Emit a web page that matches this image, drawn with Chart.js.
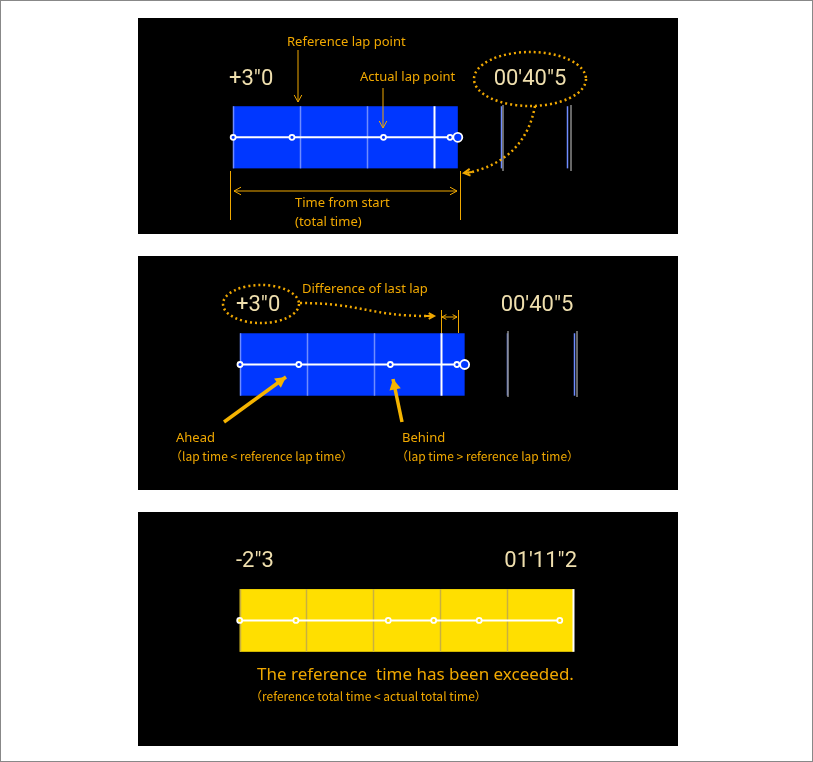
<!DOCTYPE html>
<html>
<head>
<meta charset="utf-8">
<script src="https://cdn.jsdelivr.net/npm/chart.js@4.4.0/dist/chart.umd.min.js"></script>
<style>
  body { margin: 0; background: #fff; }
  #frame { position: absolute; left: 0; top: 0; width: 811px; height: 760px; border: 1px solid #888; }
  .panel { position: absolute; left: 138px; width: 540px; background: #000; }
  .panel canvas { display: block; }
</style>
</head>
<body>
<div id="frame"></div>
<div class="panel" id="p1" style="top:18px;height:216px"><canvas id="c1"></canvas></div>
<div class="panel" id="p2" style="top:256px;height:234px"><canvas id="c2"></canvas></div>
<div class="panel" id="p3" style="top:512px;height:234px"><canvas id="c3"></canvas></div>
<script>
// seconds from start at each actual lap point
const lapsAhead = [0, 10.6, 27.1, 39.1, 40.5];
const lapsOver = [0, 12.0, 31.7, 41.4, 51.1, 68.3];
// reference lap time and number of reference laps
const refLapAhead = 12.05;
const refLapOver = 14.24;
const refLapCount = 5;
const totalAhead = 40.5;
const totalOver = 71.2;
const diffLabels = ['+3"0', '+3"0', '-2"3'];
const totalLabels = ["00'40\"5", "00'40\"5", "01'11\"2"];

const ORANGE = '#f0a800';
const CREAM = '#efdfae';
const PANEL_L = 138;

function arrowHead(ctx, x1, y1, x2, y2, size, filled) {
    const a = Math.atan2(y2 - y1, x2 - x1);
    ctx.beginPath();
    ctx.moveTo(x2 - size * Math.cos(a - 0.5), y2 - size * Math.sin(a - 0.5));
    ctx.lineTo(x2, y2);
    ctx.lineTo(x2 - size * Math.cos(a + 0.5), y2 - size * Math.sin(a + 0.5));
    if (filled) { ctx.closePath(); ctx.fill(); } else ctx.stroke();
}

function arrow(ctx, x1, y1, x2, y2, opts = {}) {
    ctx.save();
    ctx.strokeStyle = opts.color || ORANGE;
    ctx.fillStyle = opts.color || ORANGE;
    ctx.lineWidth = opts.width || 1;
    ctx.beginPath(); ctx.moveTo(x1, y1); ctx.lineTo(x2, y2); ctx.stroke();
    arrowHead(ctx, x1, y1, x2, y2, opts.head || 8, opts.filled);
    if (opts.both) arrowHead(ctx, x2, y2, x1, y1, opts.head || 8, opts.filled);
    ctx.restore();
}

function text(ctx, s, x, y, font, color, align) {
    ctx.save();
    ctx.font = font; ctx.fillStyle = color;
    ctx.textAlign = align || 'left'; ctx.textBaseline = 'middle';
    ctx.fillText(s, x, y);
    ctx.restore();
}

function dottedEllipse(ctx, cx, cy, rx, ry) {
    ctx.save();
    ctx.strokeStyle = ORANGE; ctx.lineWidth = 2.5; ctx.setLineDash([2, 3]);
    ctx.beginPath(); ctx.ellipse(cx, cy, rx, ry, 0, 0, Math.PI * 2); ctx.stroke();
    ctx.restore();
}

function makeChart(id, top, height, laps, refLap, total, barLeft, barTop, barBottom, pxPerSec, barColor, gridColor, bigEnd, note) {
    const canvas = document.getElementById(id);
    const lineY = (barTop + barBottom) / 2;
    const barPlugin = {
        id: 'bar' + id,
        beforeDatasetsDraw(chart) {
            const ctx = chart.ctx, x = chart.scales.x, y = chart.scales.y;
            const x0 = x.getPixelForValue(0), x1 = x.getPixelForValue(total);
            const y0 = y.getPixelForValue(1), y1 = y.getPixelForValue(-1);
            ctx.save();
            ctx.fillStyle = barColor;
            ctx.fillRect(x0, y0, x1 - x0, y1 - y0);
            for (let i = 0; i <= refLapCount; i++) {
                const px = Math.round(x.getPixelForValue(i * refLap)) + 0.5;
                const current = i * refLap <= total && (i + 1) * refLap > total;
                ctx.strokeStyle = current ? '#ffffff' : gridColor;
                ctx.lineWidth = current ? 2 : 1.5;
                ctx.beginPath(); ctx.moveTo(px, y0); ctx.lineTo(px, y1); ctx.stroke();
            }
            ctx.restore();
        },
        afterDraw(chart) { note(chart.ctx, (X) => X - PANEL_L, (Y) => Y - top); }
    };
    const radii = laps.map(() => 2.5);
    if (bigEnd) radii[radii.length - 1] = 4.5;
    return new Chart(canvas, {
        type: 'scatter',
        data: { datasets: [{
            data: laps.map(t => ({ x: t, y: 0 })),
            showLine: true,
            borderColor: '#ffffff', borderWidth: 2,
            pointRadius: radii, pointBorderWidth: 1.8,
            pointBorderColor: '#ffffff', pointBackgroundColor: barColor
        }] },
        options: {
            responsive: false, animation: false,
            layout: { padding: 0 },
            plugins: { legend: { display: false }, tooltip: { enabled: false } },
            scales: {
                x: { type: 'linear', display: false,
                     min: -(barLeft - PANEL_L) / pxPerSec, max: (PANEL_L + 540 - barLeft) / pxPerSec },
                y: { type: 'linear', display: false,
                     min: -1 - 2 * (top + height - barBottom) / (barBottom - barTop),
                     max: 1 + 2 * (barTop - top) / (barBottom - barTop) }
            }
        },
        plugins: [barPlugin]
    });
}

function sizeCanvas(id, h) {
    const c = document.getElementById(id);
    c.width = 540; c.height = h; c.style.width = '540px'; c.style.height = h + 'px';
}
sizeCanvas('c1', 216); sizeCanvas('c2', 234); sizeCanvas('c3', 234);

const BIG = '22px Roboto';
const SMALL = '13px "Noto Sans", sans-serif';

function outsideLines(ctx, fx, fy, xs, y0, y1) {
    ctx.save(); ctx.strokeStyle = '#8a8a8a'; ctx.lineWidth = 1.5;
    xs.forEach(x => { ctx.beginPath(); ctx.moveTo(fx(x), fy(y0)); ctx.lineTo(fx(x), fy(y1)); ctx.stroke(); });
    ctx.restore();
}

makeChart('c1', 18, 216, lapsAhead, refLapAhead, totalAhead, 229, 105, 171, 230 / totalAhead,
    '#0037ff', '#6f8cff', true, (ctx, fx, fy) => {
    outsideLines(ctx, fx, fy, [503, 571], 105, 171);
    text(ctx, diffLabels[0], fx(229), fy(79), BIG, CREAM);
    text(ctx, totalLabels[0], fx(530), fy(79), BIG, CREAM, 'center');
    dottedEllipse(ctx, fx(530), fy(79), 56, 27);
    text(ctx, 'Reference lap point', fx(287), fy(42), SMALL, ORANGE);
    arrow(ctx, fx(298), fy(50), fx(298), fy(102));
    text(ctx, 'Actual lap point', fx(360), fy(77), SMALL, ORANGE);
    arrow(ctx, fx(383), fy(88), fx(383), fy(128));
    ctx.save(); ctx.strokeStyle = ORANGE; ctx.lineWidth = 2.5; ctx.setLineDash([2, 3]);
    ctx.beginPath(); ctx.moveTo(fx(535), fy(106));
    ctx.quadraticCurveTo(fx(525), fy(160), fx(468), fy(173)); ctx.stroke(); ctx.restore();
    arrow(ctx, fx(472), fy(172), fx(464), fy(173), { head: 7, width: 2 });
    ctx.save(); ctx.strokeStyle = ORANGE; ctx.lineWidth = 1;
    [230, 460].forEach(x => { ctx.beginPath(); ctx.moveTo(fx(x) + 0.5, fy(171)); ctx.lineTo(fx(x) + 0.5, fy(220)); ctx.stroke(); });
    ctx.restore();
    arrow(ctx, fx(234), fy(191), fx(457), fy(191), { both: true });
    text(ctx, 'Time from start', fx(295), fy(203), SMALL, ORANGE);
    text(ctx, '(total time)', fx(295), fy(222), SMALL, ORANGE);
});

makeChart('c2', 256, 234, lapsAhead, refLapAhead, totalAhead, 236, 331, 397, 230 / totalAhead,
    '#0037ff', '#6f8cff', true, (ctx, fx, fy) => {
    outsideLines(ctx, fx, fy, [508, 577], 331, 397);
    text(ctx, diffLabels[1], fx(236), fy(305), BIG, CREAM);
    text(ctx, totalLabels[1], fx(537), fy(305), BIG, CREAM, 'center');
    dottedEllipse(ctx, fx(261), fy(304), 38, 19);
    text(ctx, 'Difference of last lap', fx(302), fy(289), SMALL, ORANGE);
    ctx.save(); ctx.strokeStyle = ORANGE; ctx.lineWidth = 2.5; ctx.setLineDash([2, 3]);
    ctx.beginPath(); ctx.moveTo(fx(300), fy(303));
    ctx.bezierCurveTo(fx(360), fy(303), fx(370), fy(316), fx(428), fy(316)); ctx.stroke(); ctx.restore();
    arrow(ctx, fx(426), fy(316), fx(434), fy(316), { head: 6, width: 2 });
    ctx.save(); ctx.strokeStyle = ORANGE; ctx.lineWidth = 1;
    [441, 458].forEach(x => { ctx.beginPath(); ctx.moveTo(fx(x) + 0.5, fy(310)); ctx.lineTo(fx(x) + 0.5, fy(333)); ctx.stroke(); });
    ctx.restore();
    arrow(ctx, fx(442), fy(317), fx(457), fy(317), { both: true, head: 5 });
    arrow(ctx, fx(224), fy(422), fx(286), fy(377), { width: 3.5, head: 12, filled: true, color: '#f5b400' });
    arrow(ctx, fx(402), fy(422), fx(393), fy(379), { width: 3.5, head: 12, filled: true, color: '#f5b400' });
    text(ctx, 'Ahead', fx(176), fy(438), SMALL, ORANGE);
    text(ctx, '（lap time < reference lap time）', fx(170), fy(456), '12px "Noto Sans CJK JP", sans-serif', ORANGE);
    text(ctx, 'Behind', fx(402), fy(438), SMALL, ORANGE);
    text(ctx, '（lap time > reference lap time）', fx(396), fy(456), '12px "Noto Sans CJK JP", sans-serif', ORANGE);
});

makeChart('c3', 512, 234, lapsOver, refLapOver, totalOver, 236, 587, 653, 341 / totalOver,
    '#ffdf00', '#c8b040', false, (ctx, fx, fy) => {
    text(ctx, diffLabels[2], fx(236), fy(561), BIG, CREAM);
    text(ctx, totalLabels[2], fx(577), fy(561), BIG, CREAM, 'right');
    text(ctx, 'The reference  time has been exceeded.', fx(257), fy(675), '17px "Noto Sans", sans-serif', ORANGE);
    text(ctx, '（reference total time < actual total time）', fx(250), fy(696), '12px "Noto Sans CJK JP", sans-serif', ORANGE);
});
</script>
</body>
</html>
